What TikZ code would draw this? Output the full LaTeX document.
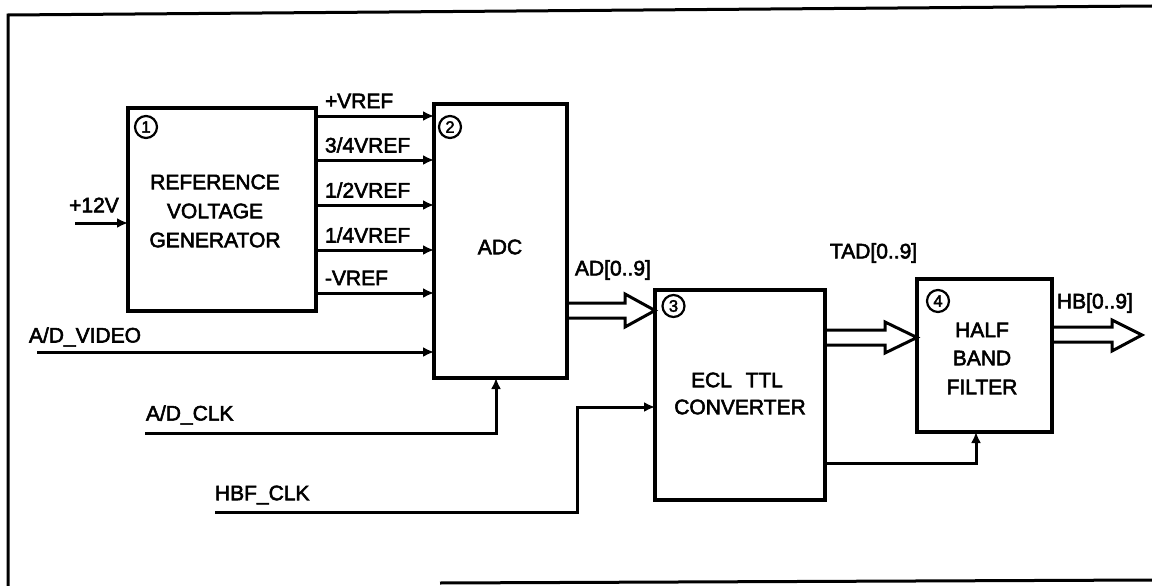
\documentclass[tikz,border=0pt]{standalone}
\usepackage{fontspec}
\setmainfont{Liberation Sans}
\newfontfamily\lblfont[FakeBold=2.6]{Liberation Sans}
\usetikzlibrary{arrows.meta,calc}
\begin{document}
\begin{tikzpicture}[x=1pt,y=-1pt,
  every node/.style={inner sep=0pt,outer sep=0pt},
  lbl/.style={font=\lblfont\fontsize{21pt}{25pt}\selectfont},
  box/.style={draw,line width=3.5pt,outer sep=0pt},
  num/.style={draw,circle,line width=2.2pt,minimum size=22pt,inner sep=0pt,font=\lblfont\fontsize{16.5pt}{16.5pt}\selectfont},
  sig/.style={line width=3pt,-{Latex[length=11pt,width=10pt]}},
  wire/.style={line width=3pt},
  bus/.style={line width=3pt,line join=miter},
  frame/.style={line width=3pt}]
\useasboundingbox (0,0) rectangle (1152,586);
% frame
\draw[frame] (1152,6) -- (8,15) -- (8,586);
\draw[frame] (440,583) -- (1152,580);
% boxes
\node[box,minimum width=188pt,minimum height=203pt] (ref) at (222,209.5) {};
\node[box,minimum width=133pt,minimum height=274pt] (adc) at (500.5,241) {};
\node[box,minimum width=170pt,minimum height=210pt] (conv) at (740,395) {};
\node[box,minimum width=135pt,minimum height=153pt] (hbf) at (984.5,355.5) {};
% box texts
\node[lbl] (t1a) at (215,182) {REFERENCE};
\node[lbl] (t1b) at (215,211) {VOLTAGE};
\node[lbl] (t1c) at (215,240) {GENERATOR};
\node[lbl] (t2) at (500,247) {ADC};
\node[lbl] (t3a) at (737,380) {ECL\hspace{0.65em}TTL};
\node[lbl] (t3b) at (740,407) {CONVERTER};
\node[lbl] (t4a) at (982,330) {HALF};
\node[lbl] (t4b) at (982,358) {BAND};
\node[lbl] (t4c) at (982,387) {FILTER};
% circled numbers
\node[num] (n1) at (146,127) {1};
\node[num] (n2) at (450,127) {2};
\node[num] (n3) at (673.5,306) {3};
\node[num] (n4) at (938,301) {4};
% reference outputs
\foreach \yy/\nm/\tx in {116/vp/{+VREF},160/v34/{3/4VREF},205/v12/{1/2VREF},250/v14/{1/4VREF},293/vm/{-VREF}}{
  \draw[sig] (ref.east |- 0,\yy) -- (adc.west |- 0,\yy);
  \node[lbl,anchor=west] (l\nm) at (325,\yy-15) {\tx};
}
% +12V
\coordinate (p12) at (75,223);
\draw[sig] (p12) -- (ref.west |- p12);
\node[lbl] (l12) at (94,205) {+12V};
% A/D_VIDEO
\coordinate (vid) at (37,352);
\draw[sig] (vid) -- (adc.west |- vid);
\node[lbl,anchor=west] (lvid) at (29,337) {A/D\_VIDEO};
% A/D_CLK
\coordinate (adclk) at (145,433);
\draw[sig] (adclk) -- (496,433) -- (adc.south -| 496,0);
\node[lbl,anchor=west] (ladclk) at (146,415) {A/D\_CLK};
% HBF_CLK
\coordinate (hbclk) at (215,512);
\draw[sig] (hbclk) -- (577,512) -- (577,407) -- (conv.west |- 0,407);
\node[lbl,anchor=west] (lhbclk) at (215,495) {HBF\_CLK};
% converter clock to filter
\draw[sig] (conv.east |- 0,463) -- (976,463) -- (hbf.south -| 976,0);
% buses
\draw[bus] (adc.east |- 0,303) -- (625,303) -- (625,294) -- (conv.west |- 0,310.5) -- (625,327) -- (625,318) -- (adc.east |- 0,318);
\node[lbl,anchor=west] (lad) at (575,270) {AD[0..9]};
\draw[bus] (conv.east |- 0,330) -- (885,330) -- (885,322) -- (hbf.west |- 0,337.5) -- (885,353) -- (885,345) -- (conv.east |- 0,345);
\node[lbl,anchor=west] (ltad) at (830,253) {TAD[0..9]};
\coordinate (hbtip) at (1142,335);
\draw[bus] (hbf.east |- 0,327) -- (1112,327) -- (1112,320) -- (hbtip) -- (1112,351) -- (1112,342) -- (hbf.east |- 0,342);
\node[lbl,anchor=west] (lhb) at (1057,303) {HB[0..9]};
\end{tikzpicture}
\end{document}
